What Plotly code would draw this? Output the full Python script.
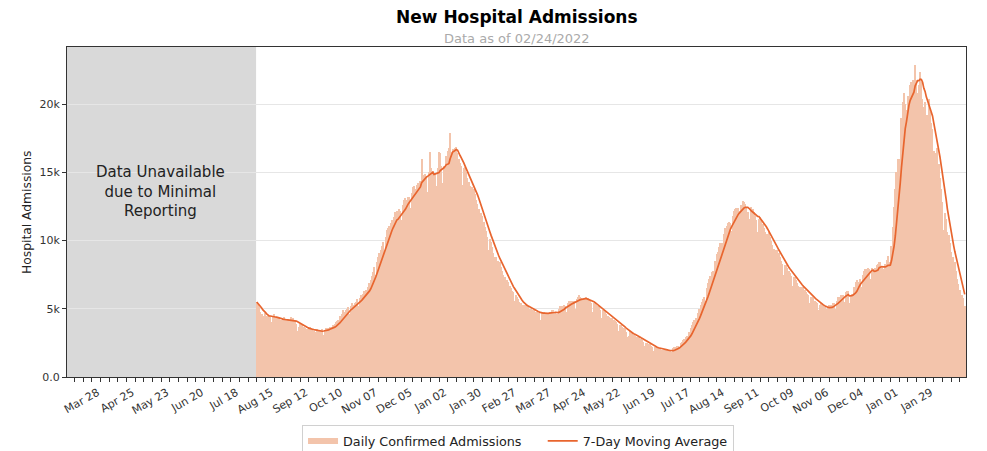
import pandas as pd
import plotly.graph_objects as go

# ---- data (daily confirmed admissions) ----
aug_dec_2020 = [
    5500, 5300, 5100, 4800,
    4600, 4200, 4500, 4700, 4500, 4400, 4500,
    4500, 4000, 4400, 4600, 4400, 4300, 4400,
    4300, 3800, 4200, 4300, 4400, 4200, 4200,
    4200, 3700, 4100, 4400, 4300, 4200, 4100,
    3900, 3400, 3700, 3900, 3800, 3800, 3700,
    3600, 3100, 3500, 3600, 3700, 3500, 3500,
    3400, 3000, 3300, 3500, 3400, 3400, 3400,
    3500, 3100, 3400, 3600, 3600, 3600, 3700,
    3700, 3300, 3800, 3900, 4000, 4100, 4200,
    4500, 4000, 4600, 4900, 4800, 4900, 5000,
    5100, 4600, 5200, 5400, 5300, 5400, 5500,
    5700, 5200, 5800, 6000, 6000, 6100, 6300,
    6400, 5900, 6600, 6900, 7100, 7400, 7700,
    8100, 7500, 8400, 8800, 9100, 9300, 9600,
    9900, 9200, 10300, 10800, 10900, 11100, 11300,
    11500, 10700, 11700, 12100, 12200, 11500, 12300,
    12200, 11500, 12600, 13000, 13100, 13000, 13200,
    13200, 12400, 13500, 13900, 14000, 13800, 14100,
    14200, 13200, 14400, 16000, 14800, 14700, 14900,
    14700, 13600, 15000, 16500, 15300, 15100, 13800,
    14900, 14000, 15300, 16500, 16400, 15500, 14200,
    15500, 14800,
]
jan_jun_2021 = [
    16200, 16600, 16800, 17900, 16500,
    16700, 15200, 16800, 16900, 16400, 16000, 15700,
    15500, 14100, 15300, 15400, 15000, 14600, 14300,
    14000, 12800, 13900, 13800, 13400, 13000, 12700,
    12300, 11000, 12000, 11800, 11400, 11000, 10700,
    10300, 9300, 10100, 9900, 9500, 9100, 8800,
    8800, 7900, 8500, 8400, 8100, 7800, 7500,
    7300, 6600, 7100, 7000, 6700, 6500, 6300,
    6200, 5600, 6000, 5900, 5700, 5500, 5400,
    5300, 4800, 5300, 5300, 5200, 5100, 5000,
    5000, 4500, 4900, 4900, 4800, 4800, 4700,
    4700, 4200, 4800, 4800, 4800, 4700, 4700,
    4700, 4300, 4800, 4900, 4900, 4800, 4800,
    4600, 4300, 5000, 5200, 5200, 5200, 5300,
    5200, 4800, 5400, 5600, 5600, 5600, 5600,
    5600, 5000, 5700, 5900, 6000, 5900, 5800,
    5700, 5100, 5800, 5900, 5800, 5700, 5600,
    5400, 4800, 5400, 5500, 5300, 5200, 5100,
    4900, 4300, 4900, 4900, 4800, 4600, 4500,
    4400, 3900, 4300, 4300, 4200, 4100, 4000,
    3900, 3400, 3800, 3800, 3700, 3600, 3500,
    3300, 2900, 3000, 3400, 3300, 3200, 3100,
    3000, 2600, 2900, 2900, 2800, 2800, 2700,
    2600, 2300, 2500, 2500, 2400, 2400, 2300,
    2200, 1900, 2200, 2200, 2100, 2100, 2100,
    2000, 1800, 2000, 2000, 2000, 2000, 2000,
    1900,
]
jul_dec_2021 = [
    1700, 1800, 2100, 2200, 2200, 2300,
    2300, 2100, 2500, 2600, 2700, 2800, 2900,
    3000, 2800, 3300, 3600, 3800, 4000, 4200,
    4300, 4000, 4700, 5000, 5300, 5500, 5700,
    5900, 5600, 6500, 6900, 7200, 7400, 7700,
    7800, 7400, 8500, 9000, 9200, 9500, 9800,
    9800, 9300, 10500, 10900, 11100, 11300, 11400,
    11300, 10700, 11800, 12200, 12300, 12400, 12400,
    12200, 11500, 12600, 12900, 12800, 12700, 12500,
    12100, 11000, 11600, 12500, 12300, 12100, 11800,
    11500, 10600, 11600, 11700, 11500, 11200, 10900,
    10600, 9600, 10500, 10600, 10300, 10000, 9700,
    9400, 8500, 9300, 9300, 9100, 8800, 8500,
    8300, 7500, 8200, 8200, 8000, 7800, 7600,
    7400, 6700, 7300, 7300, 7100, 6900, 6700,
    6600, 6000, 6600, 6600, 6400, 6200, 6100,
    6000, 5400, 5900, 5900, 5800, 5600, 5500,
    5400, 4900, 5300, 5400, 5300, 5200, 5100,
    5000, 4600, 5100, 5300, 5300, 5300, 5400,
    5400, 5000, 5600, 5900, 5900, 6000, 6000,
    6000, 5500, 6200, 6300, 6300, 5400, 6000,
    6100, 5800, 6600, 7000, 7100, 7000, 7000,
    7200, 6600, 7500, 7800, 7900, 7900, 8000,
    7900, 7200, 8000,
    7900, 7300, 8000, 8200, 8300, 8400, 8400,
    8000, 7200, 7900, 8300, 8600, 8900, 8400,
    8200, 9600, 11000, 12500, 13800, 15000, 16000,
]
jan_feb_2022 = [
    15500, 16000, 19000, 20200, 20800, 20000, 19600,
    20600, 19400, 21400, 21600, 21800, 21800, 22900,
    21800, 20800, 21400, 22400, 21600, 20400, 19800,
    20200, 18000, 19200, 20400, 19400, 18600, 18200,
    16600, 14800, 16400,
    16800, 15600, 14600, 13800, 12800, 10800, 12000,
    11600, 10600, 10400, 9800, 9200, 7200, 8800,
    8400, 7800, 7200, 6800, 6400, 5000, 6000,
    5800, 5200,
]
first_day = "2020-08-01"

tick_dates = [
    "2020-03-28", "2020-04-25", "2020-05-23", "2020-06-20", "2020-07-18",
    "2020-08-15", "2020-09-12", "2020-10-10", "2020-11-07", "2020-12-05",
    "2021-01-02", "2021-01-30", "2021-02-27", "2021-03-27", "2021-04-24",
    "2021-05-22", "2021-06-19", "2021-07-17", "2021-08-14", "2021-09-11",
    "2021-10-09", "2021-11-06", "2021-12-04", "2022-01-01", "2022-01-29",
]
tick_labels = [
    "Mar 28", "Apr 25", "May 23", "Jun 20", "Jul 18",
    "Aug 15", "Sep 12", "Oct 10", "Nov 07", "Dec 05",
    "Jan 02", "Jan 30", "Feb 27", "Mar 27", "Apr 24",
    "May 22", "Jun 19", "Jul 17", "Aug 14", "Sep 11",
    "Oct 09", "Nov 06", "Dec 04", "Jan 01", "Jan 29",
]
y_ticks = [0, 5000, 10000, 15000, 20000]
y_tick_labels = ["0.0", "5k", "10k", "15k", "20k"]

x_start, x_end = "2020-03-01", "2022-02-24"
gray_end = "2020-07-31 12:00"

# ---- derived ----
daily = aug_dec_2020 + jan_jun_2021 + jul_dec_2021 + jan_feb_2022
dates = pd.date_range(first_day, periods=len(daily), freq="D")
avg7 = pd.Series(daily).rolling(7, min_periods=1).mean()

BAR = "#f3c4ab"
LINE = "#e8652e"
FONT = "DejaVu Sans"
DAY_MS = 86400000
PAD = "\u00a0" * 4

fig = go.Figure()
fig.add_trace(go.Bar(
    x=dates, y=daily, width=DAY_MS,
    marker=dict(color=BAR, line=dict(width=0)),
    showlegend=False, hoverinfo="skip",
))
fig.add_trace(go.Scatter(
    x=[None], y=[None], mode="none", fill="toself", fillcolor=BAR,
    name="Daily Confirmed Admissions" + PAD,
))
fig.add_trace(go.Scatter(
    x=dates, y=avg7, mode="lines", line=dict(color=LINE, width=1.7),
    name="7-Day Moving Average",
))

fig.add_shape(type="rect", xref="x", yref="paper", x0=x_start, x1=gray_end,
              y0=0, y1=1, fillcolor="#d9d9d9", line=dict(width=0), layer="below")

fig.add_annotation(text="Data Unavailable<br>due to Minimal<br>Reporting",
                   xref="x", yref="paper", x="2020-05-15", y=0.562,
                   showarrow=False, align="center",
                   font=dict(family=FONT, size=15, color="#222"))
fig.add_annotation(text="<b>New Hospital Admissions</b>", xref="paper", yref="paper",
                   x=0.5, y=1.091, showarrow=False, yanchor="middle",
                   font=dict(family=FONT, size=17, color="#000"))
fig.add_annotation(text="Data as of 02/24/2022", xref="paper", yref="paper",
                   x=0.5, y=1.027, showarrow=False, yanchor="middle",
                   font=dict(family=FONT, size=13, color="#aaaaaa"))
fig.add_annotation(text="Hospital Admissions", xref="paper", yref="paper",
                   x=-0.0445, y=0.5, showarrow=False, textangle=-90,
                   xanchor="center", yanchor="middle",
                   font=dict(family=FONT, size=12.3, color="#222"))

fig.update_layout(
    width=979, height=443,
    margin=dict(l=59, r=21, t=39, b=74, autoexpand=False),
    plot_bgcolor="white", paper_bgcolor="white",
    font=dict(family=FONT, size=11, color="#333"),
    bargap=0,
    showlegend=True,
    legend=dict(orientation="h", x=0.5017, y=-0.146, xanchor="center", yanchor="top",
                bordercolor="#d0d0d0", borderwidth=1, font=dict(size=12.75, color="#222"),
                itemwidth=30),
)
fig.update_xaxes(
    type="date", range=[x_start, x_end],
    tickmode="array", tickvals=tick_dates, ticktext=tick_labels, tickangle=-30,
    ticks="outside", ticklen=4, tickcolor="#333", ticklabelshift=-3,
    minor=dict(dtick=7 * DAY_MS, tick0="2020-03-28", ticks="outside", ticklen=4,
               tickcolor="#333", showgrid=False),
    showgrid=False, showline=True, linecolor="#333", linewidth=1, mirror=True,
    tickfont=dict(size=11, color="#333"),
)
fig.update_yaxes(
    range=[0, 24200], tickmode="array", tickvals=y_ticks, ticktext=y_tick_labels,
    ticks="outside", ticklen=4, tickcolor="#333",
    showgrid=True, gridcolor="#e6e6e6", gridwidth=1,
    showline=True, linecolor="#333", linewidth=1, mirror=True, zeroline=False,
    tickfont=dict(size=11, color="#333"),
)

fig.write_html("out.html")
